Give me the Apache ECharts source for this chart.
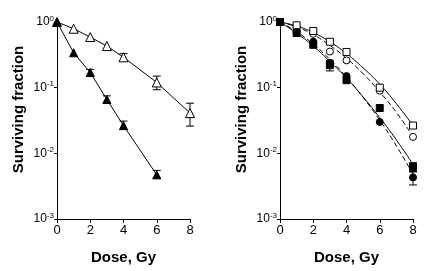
<!DOCTYPE html>
<html>
<head>
<meta charset="utf-8">
<script src="https://cdn.jsdelivr.net/npm/echarts@6/dist/echarts.min.js"></script>
<style>
  html, body { margin: 0; padding: 0; background: #fff; }
  #chart { width: 441px; height: 271px; }
</style>
</head>
<body>
<div id="chart"></div>
<script>
// doses (Gy)
var doseA = [0, 1, 2, 3, 4, 6, 8];
var doseB = [0, 1, 2, 3, 4, 6];
var doseFit = [0, 1, 2, 3, 4, 5, 6, 7, 8];

// left panel
var openTri = [1.0, 0.79, 0.59, 0.43, 0.29, 0.12, 0.041];
var openTriLo = [null, null, null, null, 0.26, 0.093, 0.026];
var openTriHi = [null, null, null, null, 0.33, 0.15, 0.058];
var fillTri = [1.0, 0.34, 0.17, 0.066, 0.0265, 0.0047];
var fillTriLo = [null, null, 0.15, 0.058, 0.023, 0.0042];
var fillTriHi = [null, null, 0.19, 0.075, 0.031, 0.0055];

// right panel points
var openSq = [1.0, 0.89, 0.73, 0.50, 0.35, 0.10, 0.0265];
var openCirc = [1.0, 0.85, 0.66, 0.355, 0.26, 0.09, 0.0178];
var fillSq = [1.0, 0.68, 0.45, 0.22, 0.13, 0.049, 0.0062];
var fillSqLo = [null, null, null, 0.18, null, null, 0.0053];
var fillSqHi = [null, null, null, 0.26, null, null, 0.0072];
var fillCirc = [1.0, 0.70, 0.50, 0.24, 0.15, 0.030, 0.0043];
var fillCircLo = [null, null, null, null, null, null, 0.0033];
var fillCircHi = [null, null, null, null, null, null, 0.0052];

// fitted curves
var fitOpenSq = [1.0, 0.866, 0.69, 0.50, 0.33, 0.20, 0.113, 0.057, 0.0265];
var fitOpenCirc = [1.0, 0.84, 0.64, 0.44, 0.28, 0.163, 0.086, 0.042, 0.018];
var fitFillSq = [1.0, 0.675, 0.43, 0.25, 0.14, 0.072, 0.035, 0.016, 0.0068];
var fitFillCirc = [1.0, 0.71, 0.46, 0.27, 0.145, 0.071, 0.032, 0.013, 0.0048];

function pairs(xs, ys) {
  return xs.map(function (x, i) { return [x, ys[i]]; });
}
function errPairs(xs, lo, hi) {
  var out = [];
  xs.forEach(function (x, i) {
    if (lo[i] != null) out.push([x, lo[i], hi[i]]);
  });
  return out;
}

var font = 'Liberation Sans, Arial, sans-serif';

function xAxis(idx) {
  return {
    gridIndex: idx, type: 'value', min: 0, max: 8, interval: 2,
    name: 'Dose, Gy', nameLocation: 'middle', nameGap: 31,
    nameTextStyle: { fontFamily: font, fontWeight: 'bold', fontSize: 15, color: '#000' },
    axisLine: { lineStyle: { color: '#000', width: 1 } },
    axisTick: { length: 4, lineStyle: { color: '#000' } },
    axisLabel: { fontFamily: font, fontSize: 13, color: '#000', margin: 5 },
    splitLine: { show: false }
  };
}
function yAxis(idx) {
  return {
    gridIndex: idx, type: 'log', logBase: 10, min: 0.001, max: 1,
    name: 'Surviving fraction', nameLocation: 'middle', nameGap: 31, nameRotate: 90,
    nameTextStyle: {
      fontFamily: font, fontWeight: 'bold', fontSize: 15, color: '#000',
      padding: [0, 0, 0, 22]
    },
    axisLine: { lineStyle: { color: '#000', width: 1 } },
    axisTick: { length: 3, lineStyle: { color: '#000' } },
    minorTick: { show: false },
    splitLine: { show: false },
    axisLabel: {
      fontFamily: font, fontSize: 12, color: '#000', margin: 3,
      formatter: function (v) {
        var e = Math.round(Math.log10(v));
        return '10{s|' + e + '}';
      },
      rich: { s: { fontFamily: font, fontSize: 8, color: '#000', padding: [0, 0, 7, 0] } }
    }
  };
}

function errSeries(xi, data) {
  return {
    type: 'custom', xAxisIndex: xi, yAxisIndex: xi, z: 1,
    data: data,
    renderItem: function (params, api) {
      var x = api.value(0);
      var lo = api.coord([x, api.value(1)]);
      var hi = api.coord([x, api.value(2)]);
      var w = 4;
      var st = { stroke: '#000', lineWidth: 1 };
      return {
        type: 'group',
        children: [
          { type: 'line', shape: { x1: lo[0], y1: lo[1], x2: hi[0], y2: hi[1] }, style: st },
          { type: 'line', shape: { x1: lo[0] - w, y1: lo[1], x2: lo[0] + w, y2: lo[1] }, style: st },
          { type: 'line', shape: { x1: hi[0] - w, y1: hi[1], x2: hi[0] + w, y2: hi[1] }, style: st }
        ]
      };
    }
  };
}

function pointLine(xi, data, symbol, filled, size) {
  return {
    type: 'line', xAxisIndex: xi, yAxisIndex: xi, data: data, z: 3,
    symbol: symbol, symbolSize: size, showSymbol: true,
    lineStyle: { color: '#000', width: 1 },
    itemStyle: { color: filled ? '#000' : '#fff', borderColor: '#000', borderWidth: 1 }
  };
}
function points(xi, data, symbol, filled, size) {
  return {
    type: 'scatter', xAxisIndex: xi, yAxisIndex: xi, data: data, z: 3,
    symbol: symbol, symbolSize: size,
    itemStyle: { color: filled ? '#000' : '#fff', borderColor: '#000', borderWidth: 1, opacity: 1 }
  };
}
function curve(data, dashed) {
  return {
    type: 'line', xAxisIndex: 1, yAxisIndex: 1, data: data, z: 2,
    smooth: true, showSymbol: false, symbol: 'none',
    lineStyle: { color: '#000', width: 1, type: dashed ? [5, 3] : 'solid' }
  };
}

var chart = echarts.init(document.getElementById('chart'), null, { renderer: 'canvas' });
chart.setOption({
  animation: false,
  backgroundColor: '#fff',
  grid: [
    { left: 57, width: 133, top: 22, height: 197 },
    { left: 280, width: 133, top: 22, height: 197 }
  ],
  xAxis: [xAxis(0), xAxis(1)],
  yAxis: [yAxis(0), yAxis(1)],
  series: [
    errSeries(0, errPairs(doseA, openTriLo, openTriHi)),
    errSeries(0, errPairs(doseB, fillTriLo, fillTriHi)),
    pointLine(0, pairs(doseA, openTri), 'triangle', false, 9),
    pointLine(0, pairs(doseB, fillTri), 'triangle', true, 8),

    curve(pairs(doseFit, fitOpenSq), false),
    curve(pairs(doseFit, fitOpenCirc), true),
    curve(pairs(doseFit, fitFillSq), false),
    curve(pairs(doseFit, fitFillCirc), true),
    errSeries(1, errPairs(doseA, fillSqLo, fillSqHi)),
    errSeries(1, errPairs(doseA, fillCircLo, fillCircHi)),
    points(1, pairs(doseA, openCirc), 'circle', false, 7),
    points(1, pairs(doseA, openSq), 'rect', false, 7),
    points(1, pairs(doseA, fillCirc), 'circle', true, 7),
    points(1, pairs(doseA, fillSq), 'rect', true, 7)
  ]
});
</script>
</body>
</html>
